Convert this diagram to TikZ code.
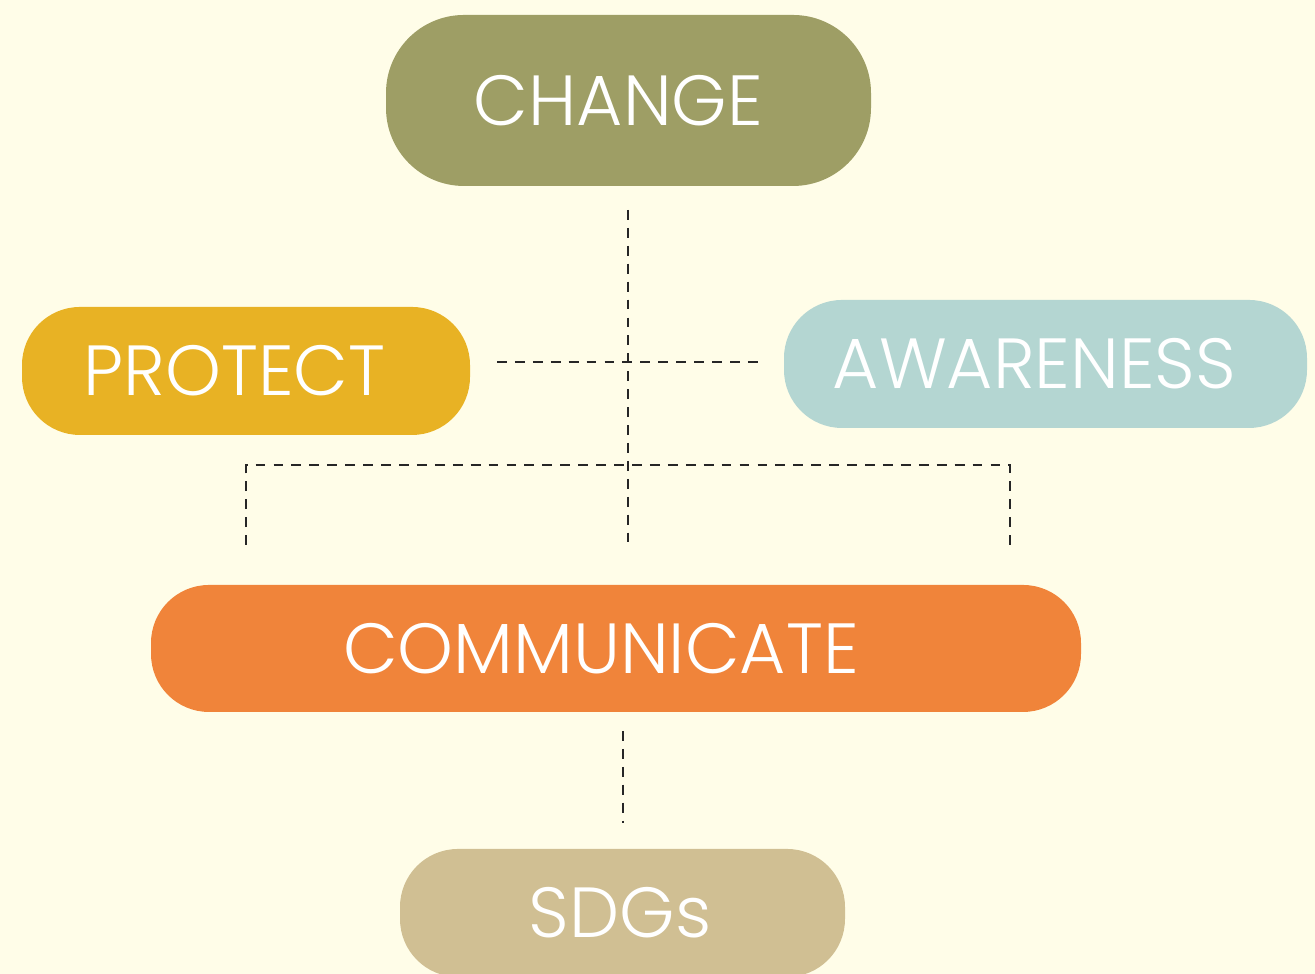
\documentclass[tikz,border=0pt]{standalone}
\usepackage{fontspec}
\setmainfont{Poppins}[UprightFont=* Light]
\usetikzlibrary{positioning}
\definecolor{bgcream}{RGB}{255,253,232}
\definecolor{olive}{RGB}{158,158,101}
\definecolor{mustard}{RGB}{232,178,36}
\definecolor{seafoam}{RGB}{180,214,210}
\definecolor{tangerine}{RGB}{240,132,58}
\definecolor{sand}{RGB}{208,191,147}
\tikzset{
  pill/.style={fill=#1, text=white, rounded corners=0.58cm, inner sep=0pt,
    font=\fontsize{20.2pt}{24pt}\selectfont},
  link/.style={draw=black!85, line width=0.75pt, dash pattern=on 2.8pt off 2.3pt}
}

\begin{document}
\begin{tikzpicture}
      \useasboundingbox (0,0) rectangle (13.15,9.74);
      \fill[bgcream] (0,0) rectangle (13.15,9.74);
      % boxes
      \node[pill=olive, minimum width=4.85cm, minimum height=1.71cm, rounded corners=0.78cm] (change) at (6.285,8.735) {CHANGE\kern0.2cm};
      \node[pill=mustard, minimum width=4.48cm, minimum height=1.28cm] (protect) at (2.46,6.03) {PROTECT\kern0.23cm};
      \node[pill=seafoam, minimum width=5.23cm, minimum height=1.28cm] (awareness) at (10.455,6.10) {AWARENESS\kern0.22cm};
      \node[pill=tangerine, minimum width=9.30cm, minimum height=1.27cm] (communicate) at (6.16,3.255) {COMMUNICATE\kern0.3cm};
      \node[pill=sand, minimum width=4.45cm, minimum height=1.28cm] (sdgs) at (6.225,0.61) {SDGs\kern0.05cm};
      % dashed links
      \coordinate (ctop) at (6.28,7.64);
      \coordinate (pl) at (4.97,6.12);
      \coordinate (ar) at (7.58,6.12);
      \coordinate (tl) at (2.46,5.09);
      \coordinate (tr) at (10.10,5.09);
      \coordinate (bl) at (2.46,4.29);
      \coordinate (bm) at (6.28,4.29);
      \coordinate (br) at (10.10,4.29);
      \coordinate (ctop2) at (6.23,2.43);
      \coordinate (sbot) at (6.23,1.51);
      \draw[link] (ctop) -- (bm);
      \draw[link] (pl) -- (ar);
      \draw[link] (bl) -- (tl) -- (tr) -- (br);
      \draw[link] (ctop2) -- (sbot);
\end{tikzpicture}
\end{document}
